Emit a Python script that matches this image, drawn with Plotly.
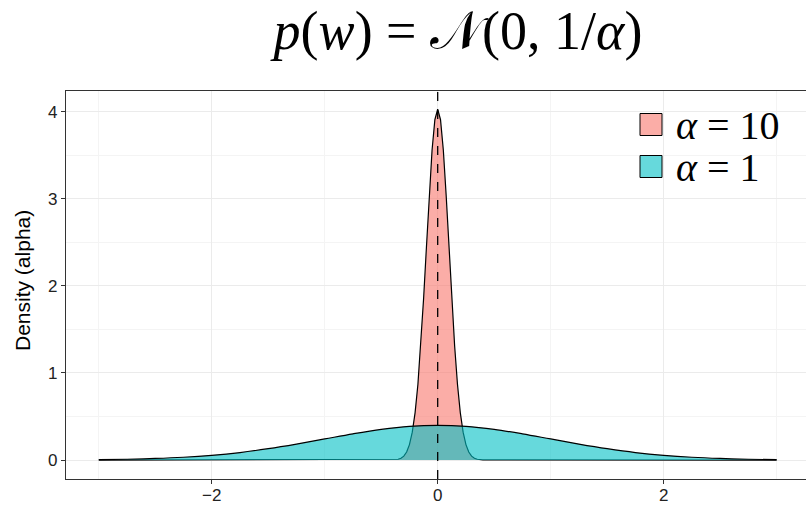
import plotly.graph_objects as go

# alpha = 10 density
x_a10 = [-3.0, -0.4, -0.35, -0.325, -0.3, -0.275, -0.25, -0.225, -0.2, -0.175, -0.15, -0.125, -0.1,
         -0.075, -0.05, -0.025, 0.0, 0.025, 0.05, 0.075, 0.1, 0.125, 0.15, 0.175, 0.2, 0.225,
         0.25, 0.275, 0.3, 0.325, 0.35, 0.4, 3.0]
y_a10 = [0.0, 0.001, 0.009, 0.021, 0.045, 0.092, 0.177, 0.32, 0.545, 0.87, 1.31, 1.85, 2.44,
         3.04, 3.56, 3.91, 4.03, 3.91, 3.56, 3.04, 2.44, 1.85, 1.31, 0.87, 0.545, 0.32,
         0.177, 0.092, 0.045, 0.021, 0.009, 0.001, 0.0]

# alpha = 1 density
x_a1 = [-3.0, -2.75, -2.5, -2.25, -2.0, -1.75, -1.5, -1.25, -1.0, -0.75, -0.5, -0.25, 0.0,
        0.25, 0.5, 0.75, 1.0, 1.25, 1.5, 1.75, 2.0, 2.25, 2.5, 2.75, 3.0]
y_a1 = [0.004, 0.009, 0.018, 0.032, 0.054, 0.086, 0.130, 0.183, 0.242, 0.301, 0.352, 0.387, 0.399,
        0.387, 0.352, 0.301, 0.242, 0.183, 0.130, 0.086, 0.054, 0.032, 0.018, 0.009, 0.004]

legend_labels = ["<i>α</i> = 10", "<i>α</i> = 1"]
fill_colors = ["rgba(248,118,109,0.6)", "rgba(0,191,196,0.6)"]

fig = go.Figure()
fig.add_trace(go.Scatter(x=x_a10, y=y_a10, mode="lines", fill="tozeroy",
                         fillcolor=fill_colors[0], line=dict(color="black", width=1.2),
                         showlegend=False))
fig.add_trace(go.Scatter(x=x_a1, y=y_a1, mode="lines", fill="tozeroy", line_shape="spline",
                         fillcolor=fill_colors[1], line=dict(color="black", width=1.2),
                         showlegend=False))

# dashed vertical line at 0
fig.add_shape(type="line", x0=0, x1=0, xref="x", y0=0, y1=1, yref="paper",
              line=dict(color="black", width=1.3, dash="dash"))

W, H = 806, 506
L, R, T, B = 66, 0, 91, 506 - 479
pw, ph = W - L - R, H - T - B
def px(x):
    return (x - L) / pw
def py(y):
    return (H - B - y) / ph

for i, (lab, col) in enumerate(zip(legend_labels, fill_colors)):
    yc = 124.5 + i * 42
    fig.add_shape(type="rect", xref="paper", yref="paper",
                  x0=px(640), x1=px(662), y0=py(yc + 11), y1=py(yc - 11),
                  fillcolor=col, line=dict(color="black", width=1))
    fig.add_annotation(xref="paper", yref="paper", x=px(674), y=py(yc + 1), text=lab,
                       showarrow=False, xanchor="left", yanchor="middle",
                       font=dict(family="Liberation Serif", size=40, color="black"))

# y-axis title
fig.add_annotation(xref="paper", yref="paper", x=px(22), y=py(281), text="Density (alpha)",
                   textangle=-90, showarrow=False, xanchor="center", yanchor="middle",
                   font=dict(family="Liberation Sans", size=21, color="black"))

fig.update_layout(
    width=W, height=H,
    margin=dict(l=L, r=R, t=T, b=B, autoexpand=False),
    paper_bgcolor="white", plot_bgcolor="white",
    title=dict(text="<i>p</i>(<i>w</i>) = 𝒩(0, 1/<i>α</i>)",
               x=458 / W, xanchor="center",
               y=1 - 30 / H, yanchor="middle",
               font=dict(family="Liberation Serif", size=54, color="black")),
    font=dict(family="Liberation Sans", color="#222"),
)
fig.update_xaxes(range=[-3.29, 3.26], tickvals=[-2, 0, 2], ticktext=["−2", "0", "2"],
                 automargin=False, ticklabelstandoff=-4,
                 showgrid=True, gridcolor="#EBEBEB", gridwidth=1.1,
                 minor=dict(tickvals=[-3, -1, 1, 3], showgrid=True, gridcolor="#F4F4F4", gridwidth=0.6),
                 zeroline=False, showline=True, linecolor="#333", linewidth=1.2, mirror=True,
                 ticks="outside", ticklen=4, tickcolor="#333", tickfont=dict(size=17, color="#222"))
fig.update_yaxes(range=[-0.218, 4.24], tickvals=[0, 1, 2, 3, 4],
                 automargin=False,
                 showgrid=True, gridcolor="#EBEBEB", gridwidth=1.1,
                 minor=dict(tickvals=[0.5, 1.5, 2.5, 3.5], showgrid=True, gridcolor="#F4F4F4", gridwidth=0.6),
                 zeroline=False, showline=True, linecolor="#333", linewidth=1.2, mirror=True,
                 ticks="outside", ticklen=4, tickcolor="#333", tickfont=dict(size=17, color="#222"))

fig.write_html("out.html", config={"displayModeBar": False},
               post_script="document.body.style.margin='0';")
